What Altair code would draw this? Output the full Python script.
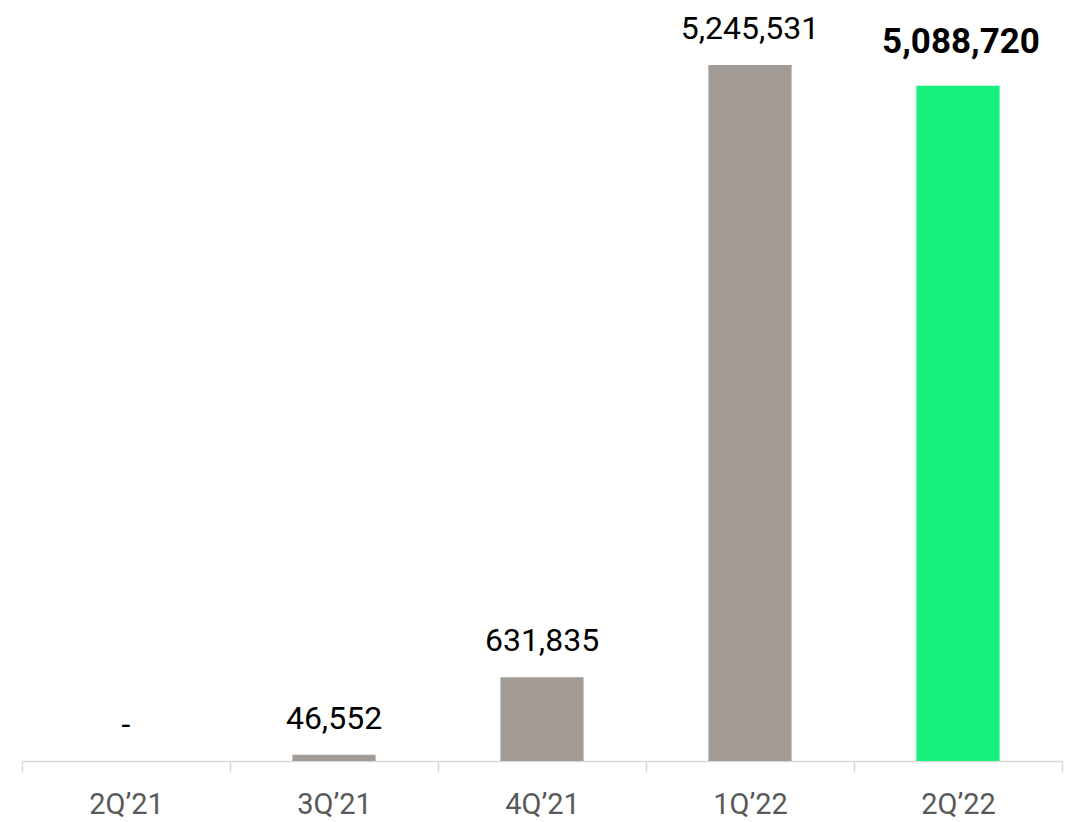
import altair as alt
import pandas as pd

quarters = ["2Q\u201921", "3Q\u201921", "4Q\u201921", "1Q\u201922", "2Q\u201922"]
values = [0, 46552, 631835, 5245531, 5088720]
labels = ["-", "46,552", "631,835", "5,245,531", "5,088,720"]
group = ["past", "past", "past", "past", "current"]

df = pd.DataFrame({"q": quarters, "v": values, "label": labels, "g": group})

x = alt.X("q:N", sort=quarters, title=None,
          scale=alt.Scale(paddingInner=0, paddingOuter=0),
          axis=alt.Axis(labelAngle=0, tickBand="extent", domainColor="#D9D9D9",
                        tickColor="#D9D9D9", domainWidth=1.5, tickWidth=1.5,
                        tickSize=11, labelFont="Roboto", labelFontSize=29,
                        labelColor="#595959", labelPadding=18))
y = alt.Y("v:Q", axis=None, scale=alt.Scale(domain=[0, 5600000], nice=False, zero=True))

base = alt.Chart(df).encode(x=x, y=y)

bars = base.mark_bar(width={"band": 0.4}).encode(
    color=alt.Color("g:N", scale=alt.Scale(domain=["past", "current"],
                                           range=["#A39B95", "#17F17B"]), legend=None)
)

txt = base.transform_filter(alt.datum.g == "past").mark_text(
    font="Roboto", fontSize=32, color="#000000", baseline="alphabetic", dy=-26
).encode(text="label:N")

txt_bold = base.transform_filter(alt.datum.g == "current").mark_text(
    font="Roboto", fontSize=35, fontWeight="bold", color="#000000",
    baseline="alphabetic", dy=-33, dx=3
).encode(text="label:N")

chart = alt.layer(bars, txt, txt_bold).properties(
    width=1040, height=743,
    padding={"left": 14, "top": 10, "right": 9, "bottom": 62},
    autosize=alt.AutoSizeParams(type="none"),
).configure_view(stroke=None)

chart.save("out.html", embed_options={"renderer": "svg", "actions": False})
